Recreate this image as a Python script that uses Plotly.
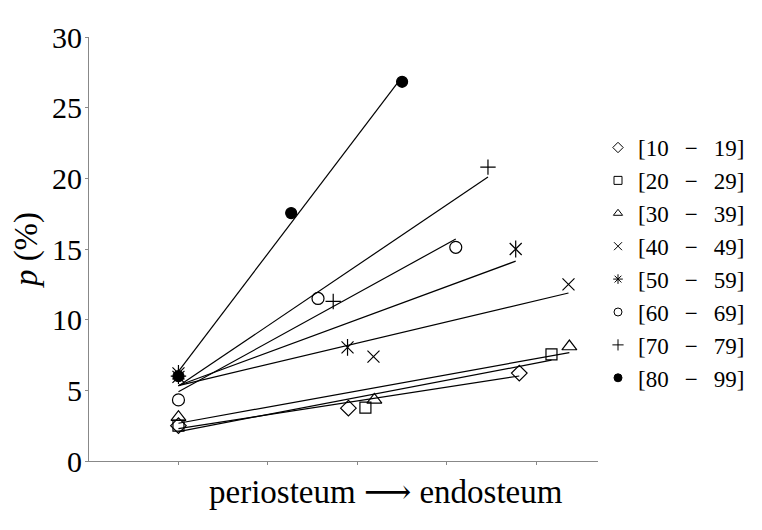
import numpy as np
import plotly.graph_objects as go

sp = "\u2002\u2009"
groups = [f"[10{sp}−{sp}19]", f"[20{sp}−{sp}29]", f"[30{sp}−{sp}39]", f"[40{sp}−{sp}49]",
          f"[50{sp}−{sp}59]", f"[60{sp}−{sp}69]", f"[70{sp}−{sp}79]", f"[80{sp}−{sp}99]"]

x_10_19 = [1, 2.90, 4.81]
y_10_19 = [2.5, 3.74, 6.22]
x_20_29 = [1, 3.09, 5.17]
y_20_29 = [2.5, 3.78, 7.55]
x_30_39 = [1, 3.19, 5.37]
y_30_39 = [3.1, 4.32, 8.1]
x_40_49 = [1, 3.18, 5.36]
y_40_49 = [5.95, 7.39, 12.5]
x_50_59 = [1, 2.89, 4.77]
y_50_59 = [6.2, 8.04, 15.0]
x_60_69 = [1, 2.56, 4.10]
y_60_69 = [4.32, 11.5, 15.12]
x_70_79 = [1, 2.73, 4.46]
y_70_79 = [6.0, 11.29, 20.79]
x_80_99 = [1, 2.26, 3.50]
y_80_99 = [6.0, 17.54, 26.83]

xs = [x_10_19, x_20_29, x_30_39, x_40_49, x_50_59, x_60_69, x_70_79, x_80_99]
ys = [y_10_19, y_20_29, y_30_39, y_40_49, y_50_59, y_60_69, y_70_79, y_80_99]

symbols = ["diamond-open", "square-open", "triangle-up-open", "x-thin-open",
           "asterisk-open", "circle-open", "cross-thin-open", "circle"]
sizes = [12, 11, 13, 12, 12, 12, 11, 11]

y_ticks = [0, 5, 10, 15, 20, 25, 30]
x_ticks = [1, 2, 3, 4, 5]

fig = go.Figure()

for name, x, y, sym, sz in zip(groups, xs, ys, symbols, sizes):
    xa = np.array(x)
    ya = np.array(y)
    slope, icpt = np.polyfit(xa, ya, 1)
    xl = np.array([xa.min(), xa.max()])
    fig.add_trace(go.Scatter(x=xl, y=slope * xl + icpt, mode="lines",
                             line=dict(color="black", width=1.2),
                             showlegend=False, hoverinfo="skip"))
    if sym == "asterisk-open":
        for s in ["x-thin-open", "line-ns-open"]:
            fig.add_trace(go.Scatter(x=x, y=y, mode="markers", showlegend=False,
                                     marker=dict(symbol=s, size=sz, color="black",
                                                 line=dict(color="black", width=1.2))))
    else:
        fig.add_trace(go.Scatter(x=x, y=y, mode="markers", showlegend=False,
                                 marker=dict(symbol=sym, size=sz, color="black",
                                             line=dict(color="black", width=1.2))))

for name, sym in zip(groups, symbols):
    fig.add_trace(go.Scatter(x=[None], y=[None], mode="markers", name=name,
                             marker=dict(symbol=sym, size=8, color="black",
                                         line=dict(color="black", width=1))))

serif = "Liberation Serif, DejaVu Serif, serif"

# page body has an 8px margin; figure sized so plot area matches the reference
fig.update_layout(
    width=754, height=522,
    margin=dict(l=81, r=162, t=22, b=69),
    paper_bgcolor="white", plot_bgcolor="white",
    font=dict(family=serif, color="black", size=27),
    showlegend=True,
    legend=dict(x=1.0, y=0.79, xanchor="left", yanchor="top",
                font=dict(size=23, family=serif),
                itemwidth=30, tracegroupgap=0,
                bgcolor="rgba(0,0,0,0)"),
    xaxis=dict(range=[0, 5.69], tickvals=x_ticks, ticktext=["" for _ in x_ticks],
               showgrid=False, zeroline=False, showline=True,
               linecolor="#888888", linewidth=1.2,
               ticks="outside", ticklen=3, tickcolor="#888888"),
    yaxis=dict(range=[0, 30], tickvals=y_ticks,
               showgrid=False, zeroline=False, showline=True,
               linecolor="#888888", linewidth=1.2,
               ticks="outside", ticklen=3, tickcolor="#888888",
               tickfont=dict(size=30, family=serif), ticklabelstandoff=-3,
               title=dict(text="<i>p</i> (%)", font=dict(size=33, family=serif),
                          standoff=4)),
    annotations=[dict(text="periosteum ⟶ endosteum", xref="paper", yref="paper",
                      x=0.583, y=-0.074, xanchor="center", yanchor="middle",
                      showarrow=False, font=dict(size=33, family=serif))],
)

fig.write_html("out.html")
